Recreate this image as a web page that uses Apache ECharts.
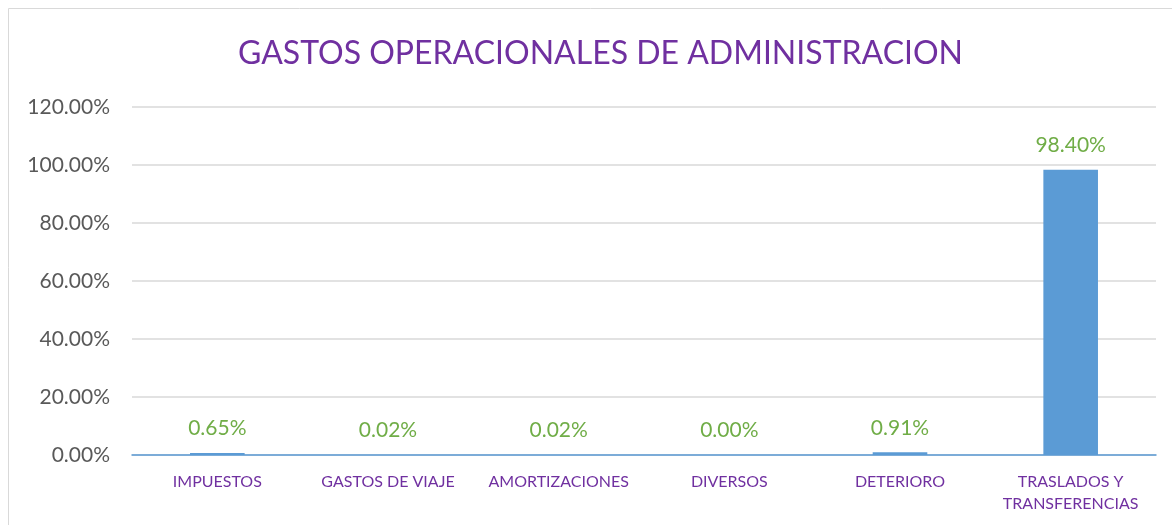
<!DOCTYPE html>
<html>
<head>
<meta charset="utf-8">
<script src="https://cdn.jsdelivr.net/npm/echarts@6/dist/echarts.min.js"></script>
<style>
  html, body { margin: 0; padding: 0; background: #fff; }
  #chart { width: 1172px; height: 525px; }
</style>
</head>
<body>
<div id="chart"></div>
<script>
var categories = ['IMPUESTOS', 'GASTOS DE VIAJE', 'AMORTIZACIONES', 'DIVERSOS', 'DETERIORO', 'TRASLADOS Y\nTRANSFERENCIAS'];
var shares = [0.65, 0.02, 0.02, 0.00, 0.91, 98.40];

var chart = echarts.init(document.getElementById('chart'), null, { renderer: 'canvas' });

chart.setOption({
    animation: false,
    textStyle: { fontFamily: 'Lato, "Open Sans", sans-serif' },
    title: {
        text: 'GASTOS OPERACIONALES DE ADMINISTRACION',
        left: 233,
        top: 33,
        textStyle: { color: '#7030A0', fontSize: 32, fontWeight: 'normal' }
    },
    // outer chart frame
    graphic: [{
        type: 'rect',
        shape: { x: 8.5, y: 8.5, width: 1170, height: 530 },
        style: { fill: 'none', stroke: '#D9D9D9', lineWidth: 1 }
    }],
    grid: { left: 132, right: 16, top: 107, bottom: 70 },
    xAxis: {
        type: 'category',
        data: categories,
        axisTick: { show: false },
        axisLine: { lineStyle: { color: '#5B9BD5', width: 1.5 } },
        axisLabel: { color: '#7030A0', fontSize: 16, margin: 16, lineHeight: 22, interval: 0 }
    },
    yAxis: {
        type: 'value',
        min: 0,
        max: 120,
        interval: 20,
        axisLine: { show: false },
        axisTick: { show: false },
        splitLine: { lineStyle: { color: '#D9D9D9', width: 1.5 } },
        axisLabel: {
            color: '#595959',
            fontSize: 21,
            margin: 22,
            formatter: function (v) { return v.toFixed(2) + '%'; }
        }
    },
    series: [{
        type: 'bar',
        data: shares,
        barWidth: '32%',
        itemStyle: { color: '#5B9BD5' },
        label: {
            show: true,
            position: 'top',
            distance: 14,
            color: '#70AD47',
            fontSize: 21,
            formatter: function (p) { return p.value.toFixed(2) + '%'; }
        }
    }]
});
</script>
</body>
</html>
